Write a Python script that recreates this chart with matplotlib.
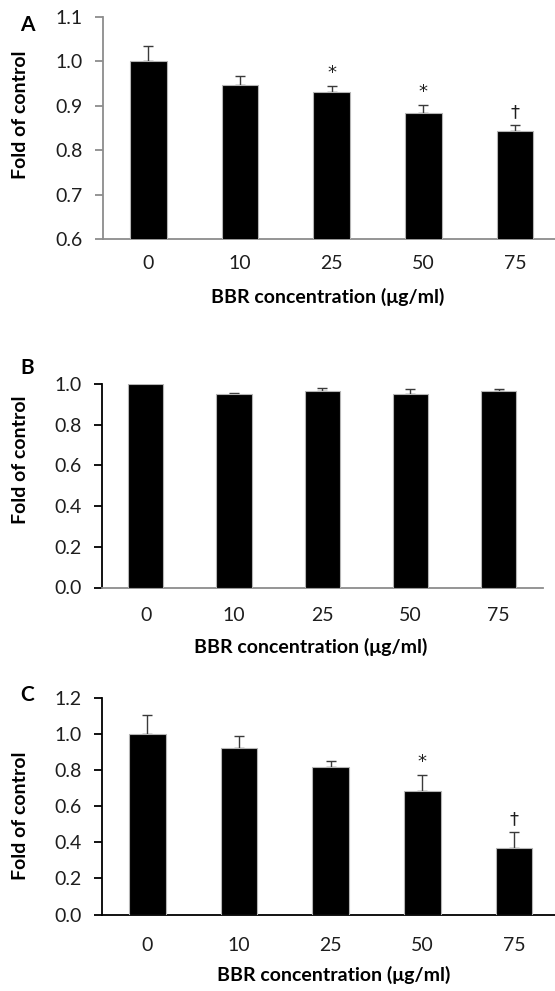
import matplotlib
matplotlib.use('agg')
import matplotlib.pyplot as plt
import numpy as np

plt.rcParams['font.family'] = ['Lato', 'DejaVu Sans']

conc = ['0', '10', '25', '50', '75']

mean_a = [1.0, 0.947, 0.932, 0.883, 0.844]
err_a = [0.034, 0.019, 0.012, 0.018, 0.012]
marks_a = [(2, '*'), (3, '*'), (4, '\u2020')]

mean_b = [1.0, 0.953, 0.965, 0.953, 0.964]
err_b = [0.0, 0.004, 0.013, 0.022, 0.011]
marks_b = []

mean_c = [1.0, 0.925, 0.815, 0.687, 0.368]
err_c = [0.106, 0.065, 0.037, 0.084, 0.088]
marks_c = [(3, '*'), (4, '\u2020')]

TXT = '#1e1e1e'
W, H = 555, 991

fig = plt.figure(figsize=(W / 100, H / 100), dpi=100)


def px_axes(left, right, top, bottom):
    return fig.add_axes([left / W, 1 - bottom / H, (right - left) / W, (bottom - top) / H])


def panel(ax, means, errs, marks, ylim, step, ycol, xcol, xpad):
    x = np.arange(len(conc))
    ax.bar(x, means, width=0.4, color='black', edgecolor='#b5b5b5', linewidth=0.8, zorder=3)
    errs = np.array(errs)
    show = errs > 0
    ax.errorbar(x[show], np.array(means)[show], yerr=[np.zeros(show.sum()), errs[show]],
                fmt='none', ecolor='#3a3a3a', elinewidth=1.0, capsize=3.4, capthick=1.0, zorder=2)
    for i, s in marks:
        ax.annotate(s, (x[i], means[i] + errs[i]), xytext=(0, 3), textcoords='offset points',
                    ha='center', va='bottom', fontsize=13, color=TXT,
                    family=['DejaVu Sans'])
    ax.set_xlim(-0.5, len(conc) - 0.5)
    ax.set_ylim(*ylim)
    ax.set_yticks(np.arange(ylim[0], ylim[1] + 1e-9, step))
    ax.yaxis.set_major_formatter(matplotlib.ticker.FormatStrFormatter('%.1f'))
    ax.set_xticks(x)
    ax.set_xticklabels(conc)
    for sp in ['top', 'right']:
        ax.spines[sp].set_visible(False)
    ax.spines['left'].set_color(ycol)
    ax.spines['bottom'].set_color(xcol)
    ax.spines['left'].set_linewidth(1.3)
    ax.spines['bottom'].set_linewidth(1.3)
    ax.tick_params(axis='y', length=5.5, width=1.3, color=ycol, pad=9, labelsize=14, labelcolor=TXT)
    ax.tick_params(axis='x', length=0, pad=xpad, labelsize=14, labelcolor=TXT)


ax_a = px_axes(102.5, 561, 16.7, 239.5)
panel(ax_a, mean_a, err_a, marks_a, (0.6, 1.1), 0.1, '#8c8c8c', '#8c8c8c', 11)

ax_b = px_axes(101.7, 542.7, 384, 587.5)
panel(ax_b, mean_b, err_b, marks_b, (0.0, 1.0), 0.2, 'black', '#8c8c8c', 14)

ax_c = px_axes(101.5, 560, 698, 914.5)
panel(ax_c, mean_c, err_c, marks_c, (0.0, 1.2), 0.2, 'black', 'black', 16)

lab = dict(fontsize=14, fontweight='bold', color='black')
for letter, ly, yl_y, xl_x, xl_y in [('A', 25, 115, 328, 297),
                                     ('B', 368, 460, 311, 647),
                                     ('C', 695, 816, 334, 975)]:
    fig.text(27 / W, 1 - ly / H, letter, ha='center', va='center', fontsize=15, fontweight='bold')
    fig.text(21 / W, 1 - yl_y / H, 'Fold of control', rotation=90, ha='center', va='center', **lab)
    fig.text(xl_x / W, 1 - xl_y / H, 'BBR concentration (\u03bcg/ml)', ha='center', va='center', **lab)

fig.savefig('out.png', dpi=100)
